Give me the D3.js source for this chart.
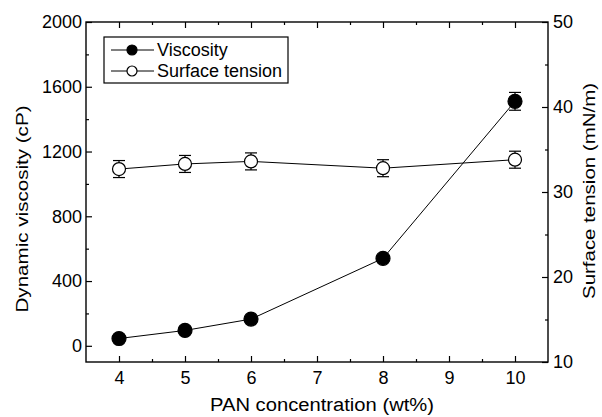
<!DOCTYPE html>
<html lang="en">
    <head>
        <meta charset="utf-8">
        <title>Viscosity and surface tension</title>
        <script src="https://d3js.org/d3.v7.min.js"></script>
        <style type="text/css">
            body { margin: 0; background: #fff; }
            text { font-family: "Liberation Sans", Arial, sans-serif; fill: #000; }
        </style>
    </head>
    <body>
        <script type="text/javascript">

            //1. sizes
            const svgW = 602;
            const svgH = 417;
            const plotL = 86, plotR = 548, plotT = 22, plotB = 362;

            //2. data
            const concentration = [4, 5, 6, 8, 10];
            const viscosity = [45, 95, 165, 540, 1510];
            const viscosityErr = [0, 0, 0, 0, 55];
            const tension = [32.7, 33.3, 33.6, 32.8, 33.8];
            const tensionErr = [1.0, 1.0, 1.0, 1.0, 1.0];

            const xTicks = [4, 5, 6, 7, 8, 9, 10];
            const xMinor = [4.5, 5.5, 6.5, 7.5, 8.5, 9.5];
            const yLeftTicks = [0, 400, 800, 1200, 1600, 2000];
            const yLeftMinor = [200, 600, 1000, 1400, 1800];
            const yRightTicks = [10, 20, 30, 40, 50];
            const yRightMinor = [15, 25, 35, 45];

            //3. scales
            const xScale = d3.scaleLinear().domain([3.5, 10.5]).range([plotL, plotR]);
            const yLeft = d3.scaleLinear().domain([-100, 2000]).range([plotB, plotT]);
            const yRight = d3.scaleLinear().domain([10, 50]).range([plotB, plotT]);

            //4. svg
            const svg = d3.select("body")
                        .append("svg")
                        .attr("width", svgW)
                        .attr("height", svgH);

            // axes (ticks inward)
            function styleAxis(g) {
                g.select(".domain").remove();
                g.selectAll("line").attr("stroke", "#000").attr("stroke-width", 1.2);
                g.selectAll("text").attr("font-size", "18px").attr("fill", "#000")
                    .style("font-family", "'Liberation Sans', Arial, sans-serif");
            }

            svg.append("g")
                .attr("transform", "translate(0," + plotB + ")")
                .call(d3.axisBottom(xScale).tickValues(xTicks).tickSize(-6).tickPadding(9).tickFormat(d3.format("d")))
                .call(styleAxis);
            svg.append("g")
                .attr("transform", "translate(0," + plotB + ")")
                .call(d3.axisBottom(xScale).tickValues(xMinor).tickSize(-3).tickFormat(""))
                .call(styleAxis);
            svg.append("g")
                .attr("transform", "translate(0," + plotT + ")")
                .call(d3.axisTop(xScale).tickValues(xTicks).tickSize(-6).tickFormat(""))
                .call(styleAxis);
            svg.append("g")
                .attr("transform", "translate(0," + plotT + ")")
                .call(d3.axisTop(xScale).tickValues(xMinor).tickSize(-3).tickFormat(""))
                .call(styleAxis);

            svg.append("g")
                .attr("transform", "translate(" + plotL + ",0)")
                .call(d3.axisLeft(yLeft).tickValues(yLeftTicks).tickSize(-6).tickPadding(4).tickFormat(d3.format("d")))
                .call(styleAxis);
            svg.append("g")
                .attr("transform", "translate(" + plotL + ",0)")
                .call(d3.axisLeft(yLeft).tickValues(yLeftMinor).tickSize(-3).tickFormat(""))
                .call(styleAxis);

            svg.append("g")
                .attr("transform", "translate(" + plotR + ",0)")
                .call(d3.axisRight(yRight).tickValues(yRightTicks).tickSize(-6).tickPadding(5).tickFormat(d3.format("d")))
                .call(styleAxis);
            svg.append("g")
                .attr("transform", "translate(" + plotR + ",0)")
                .call(d3.axisRight(yRight).tickValues(yRightMinor).tickSize(-3).tickFormat(""))
                .call(styleAxis);

            // frame
            svg.append("rect")
                .attr("x", plotL).attr("y", plotT)
                .attr("width", plotR - plotL).attr("height", plotB - plotT)
                .attr("fill", "none").attr("stroke", "#000").attr("stroke-width", 1.4);

            // series
            const visc = concentration.map((c, i) => ({x: c, y: viscosity[i], e: viscosityErr[i]}));
            const tens = concentration.map((c, i) => ({x: c, y: tension[i], e: tensionErr[i]}));

            function drawSeries(data, yScale, fill) {
                const g = svg.append("g");
                g.append("path")
                    .datum(data)
                    .attr("fill", "none")
                    .attr("stroke", "#000")
                    .attr("stroke-width", 1)
                    .attr("d", d3.line().x(d => xScale(d.x)).y(d => yScale(d.y)));

                const err = g.selectAll(".err")
                    .data(data.filter(d => d.e > 0))
                    .enter()
                    .append("g")
                    .attr("stroke", "#000")
                    .attr("stroke-width", 1.2);
                err.append("line")
                    .attr("x1", d => xScale(d.x)).attr("x2", d => xScale(d.x))
                    .attr("y1", d => yScale(d.y - d.e)).attr("y2", d => yScale(d.y + d.e));
                err.append("line")
                    .attr("x1", d => xScale(d.x) - 6).attr("x2", d => xScale(d.x) + 6)
                    .attr("y1", d => yScale(d.y - d.e)).attr("y2", d => yScale(d.y - d.e));
                err.append("line")
                    .attr("x1", d => xScale(d.x) - 6).attr("x2", d => xScale(d.x) + 6)
                    .attr("y1", d => yScale(d.y + d.e)).attr("y2", d => yScale(d.y + d.e));

                g.selectAll("circle")
                    .data(data)
                    .enter()
                    .append("circle")
                    .attr("cx", d => xScale(d.x))
                    .attr("cy", d => yScale(d.y))
                    .attr("r", fill === "#000" ? 7 : 6.5)
                    .attr("fill", fill)
                    .attr("stroke", "#000")
                    .attr("stroke-width", 1.2);
            }

            drawSeries(tens, yRight, "#fff");
            drawSeries(visc, yLeft, "#000");

            // legend
            const legend = svg.append("g");
            legend.append("rect")
                .attr("x", 104).attr("y", 37).attr("width", 184).attr("height", 46)
                .attr("fill", "#fff").attr("stroke", "#000").attr("stroke-width", 1.2);
            const items = [
                {label: "Viscosity", fill: "#000", y: 50},
                {label: "Surface tension", fill: "#fff", y: 71}
            ];
            items.forEach(it => {
                legend.append("line")
                    .attr("x1", 111).attr("x2", 154)
                    .attr("y1", it.y).attr("y2", it.y)
                    .attr("stroke", "#000").attr("stroke-width", 1);
                legend.append("circle")
                    .attr("cx", 132).attr("cy", it.y).attr("r", 5)
                    .attr("fill", it.fill).attr("stroke", "#000").attr("stroke-width", 1.2);
                legend.append("text")
                    .attr("x", 157).attr("y", it.y + 6)
                    .attr("font-size", "18px")
                    .text(it.label);
            });

            // axis titles (stretched a bit, the original face is wider)
            svg.append("text")
                .attr("x", 322)
                .attr("y", 411)
                .attr("text-anchor", "middle")
                .attr("font-size", "18px")
                .attr("textLength", 224)
                .attr("lengthAdjust", "spacingAndGlyphs")
                .text("PAN concentration (wt%)");

            svg.append("text")
                .attr("transform", "translate(28,209) rotate(-90)")
                .attr("text-anchor", "middle")
                .attr("font-size", "17px")
                .attr("textLength", 207)
                .attr("lengthAdjust", "spacingAndGlyphs")
                .text("Dynamic viscosity (cP)");

            svg.append("text")
                .attr("transform", "translate(595,191) rotate(-90)")
                .attr("text-anchor", "middle")
                .attr("font-size", "17px")
                .attr("textLength", 216)
                .attr("lengthAdjust", "spacingAndGlyphs")
                .text("Surface tension (mN/m)");

        </script>
    </body>
</html>
